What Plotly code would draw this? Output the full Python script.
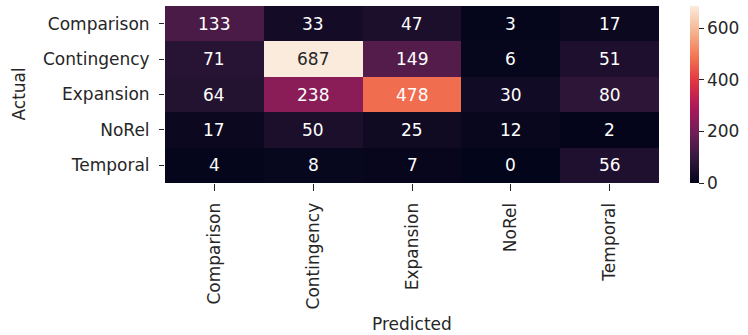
import plotly.graph_objects as go

labels = ["Comparison", "Contingency", "Expansion", "NoRel", "Temporal"]
actual = labels
predicted = labels
counts = [
    [133, 33, 47, 3, 17],
    [71, 687, 149, 6, 51],
    [64, 238, 478, 30, 80],
    [17, 50, 25, 12, 2],
    [4, 8, 7, 0, 56],
]
cbar_ticks = [0, 200, 400, 600]

rocket = [
    [0.0, "#03051a"], [1/7, "#35193e"], [2/7, "#701f57"], [3/7, "#ad1759"],
    [4/7, "#e13342"], [5/7, "#f37651"], [6/7, "#f6b48f"], [1.0, "#faebdd"],
]

FONT = "DejaVu Sans"
FS = 17
TXT = "#262626"

zmin = min(min(r) for r in counts)
zmax = max(max(r) for r in counts)

fig = go.Figure(go.Heatmap(
    z=counts, x=predicted, y=actual,
    colorscale=rocket, zmin=zmin, zmax=zmax,
    hoverinfo="skip",
    colorbar=dict(
        x=(690 - 165) / 494, xanchor="left", xref="paper",
        y=0, yanchor="bottom", len=1, lenmode="fraction",
        thickness=9, outlinewidth=0,
        tickvals=cbar_ticks, ticks="outside", ticklen=5, tickwidth=1,
        tickcolor=TXT, tickfont=dict(family=FONT, size=FS, color=TXT),
        ypad=0, xpad=0,
    ),
))

annotations = []
for i, row in enumerate(counts):
    for j, v in enumerate(row):
        annotations.append(dict(
            x=predicted[j], y=actual[i], xref="x", yref="y", text=str(v),
            showarrow=False,
            font=dict(family=FONT, size=FS, color=TXT if v / zmax > 0.85 else "#ffffff"),
        ))

annotations.append(dict(
    x=(18 - 165) / 494, y=0.5, xref="paper", yref="paper", text="Actual",
    textangle=-90, showarrow=False, xanchor="center", yanchor="middle",
    font=dict(family=FONT, size=FS, color=TXT),
))
annotations.append(dict(
    x=0.5, y=(183 - 324) / 177, xref="paper", yref="paper", text="Predicted",
    showarrow=False, xanchor="center", yanchor="middle",
    font=dict(family=FONT, size=FS, color=TXT),
))

fig.update_layout(
    width=748, height=335,
    margin=dict(l=165, r=89, t=6, b=152, pad=0),
    paper_bgcolor="white", plot_bgcolor="white",
    annotations=annotations,
    font=dict(family=FONT, size=FS, color=TXT),
)
fig.update_xaxes(
    tickangle=-90, ticks="outside", ticklen=7, tickwidth=1, tickcolor=TXT,
    tickfont=dict(family=FONT, size=FS, color=TXT), showgrid=False,
    zeroline=False, showline=False, ticklabelstandoff=5,
)
fig.update_yaxes(
    autorange="reversed", ticks="outside", ticklen=5, tickwidth=1, tickcolor=TXT,
    tickfont=dict(family=FONT, size=FS, color=TXT), showgrid=False,
    zeroline=False, showline=False, ticklabelstandoff=6,
)

fig.write_html("out.html")
